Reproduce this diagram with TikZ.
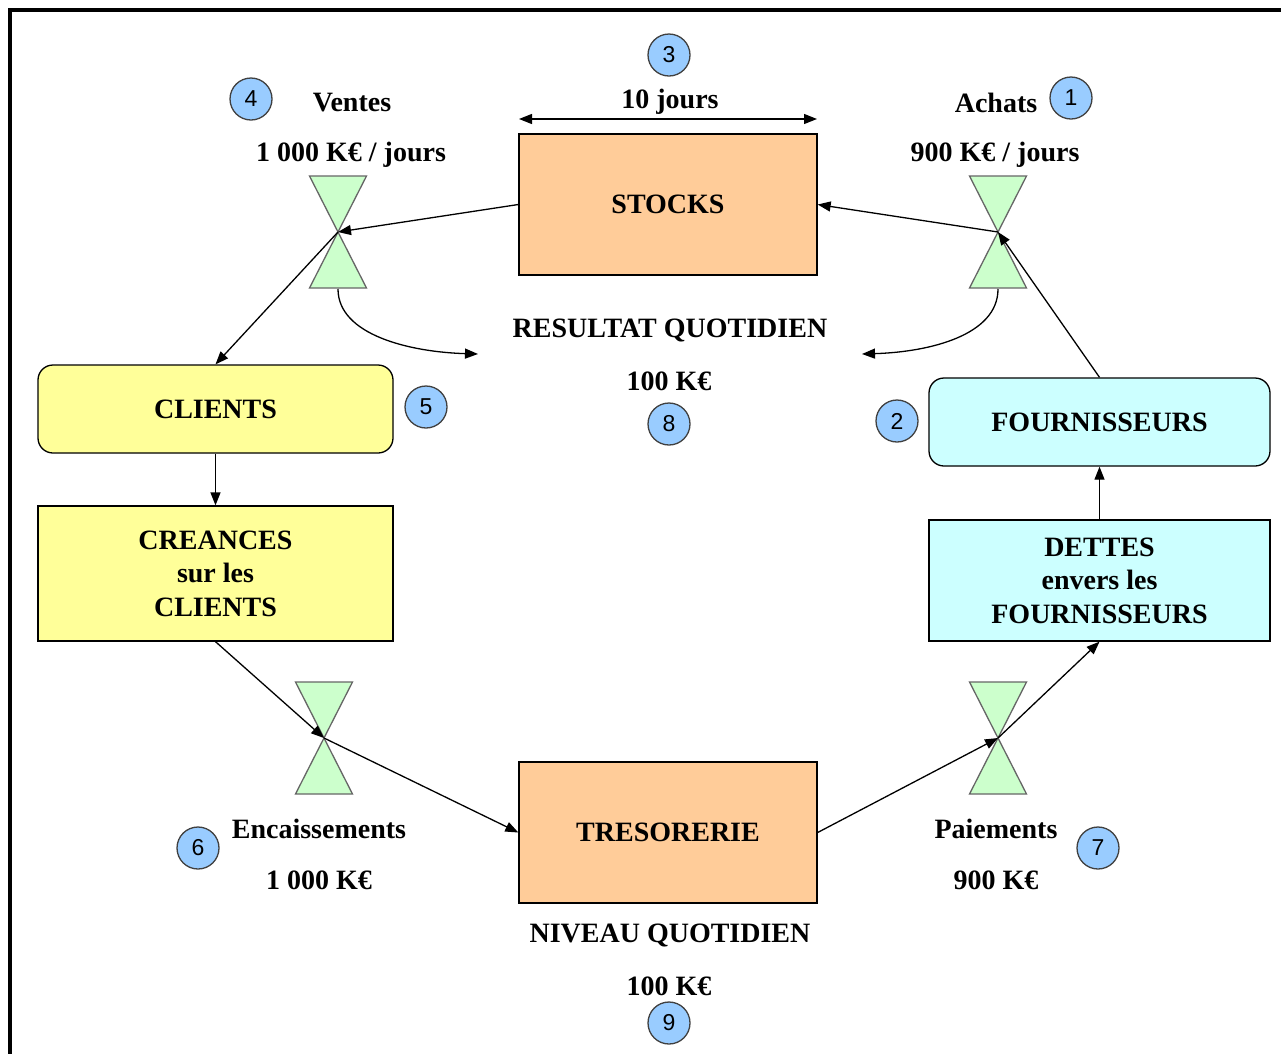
\documentclass[tikz,border=0pt]{standalone}
\usepackage{fontspec}
\setmainfont{Liberation Serif}
\newfontfamily\numfont{Liberation Sans}
\usetikzlibrary{arrows.meta,calc}
\definecolor{peach}{HTML}{FFCC99}
\definecolor{lyellow}{HTML}{FFFF99}
\definecolor{lcyan}{HTML}{CCFFFF}
\definecolor{lgreen}{HTML}{CCFFCC}
\definecolor{lblue}{HTML}{99CCFF}
\begin{document}
\begin{tikzpicture}[x=1pt,y=-1pt,
  txt/.style={font=\fontsize{28}{33.5}\selectfont\bfseries, inner sep=0pt, align=center},
  boxsq/.style={draw=black, line width=1.3pt, inner sep=0pt, font=\fontsize{28}{33.5}\selectfont\bfseries, align=center},
  boxrd/.style={boxsq, rounded corners=15pt},
  numc/.style={circle, draw=black!75, line width=1.3pt, fill=lblue, minimum size=42pt, inner sep=0pt, font=\numfont\fontsize{23}{23}\selectfont},
  conn/.style={line width=1.3pt, -{Triangle[length=13pt,width=10pt]}},
  hgstyle/.style={draw=black!60, line width=1.3pt, fill=lgreen},
  hourglass/.pic={\draw[hgstyle] (-28.5,-56)--(28.5,-56)--(0,0)--cycle (0,0)--(-28.5,56)--(28.5,56)--cycle;}
]
\useasboundingbox (0,0) rectangle (1281,1053);
% frame
\draw[line width=4.5pt, line cap=rect] (1290,10) -- (10,10) -- (10,1060);

% boxes
\node[boxsq, fill=peach, minimum width=298pt, minimum height=141pt] (stocks) at (668,204.5) {STOCKS};
\node[boxsq, fill=peach, minimum width=298pt, minimum height=141pt] (treso) at (668,832.5) {TRESORERIE};
\node[boxrd, fill=lyellow, minimum width=355pt, minimum height=88pt] (clients) at (215.5,409) {CLIENTS};
\node[boxsq, fill=lyellow, minimum width=355pt, minimum height=135pt] (creances) at (215.5,573.5) {CREANCES\\sur les\\CLIENTS};
\node[boxrd, fill=lcyan, minimum width=341pt, minimum height=88pt] (fourn) at (1099.5,422) {FOURNISSEURS};
\node[boxsq, fill=lcyan, minimum width=341pt, minimum height=121pt] (dettes) at (1099.5,580.5) {DETTES\\envers les\\FOURNISSEURS};

% hourglasses
\coordinate (hgV) at (338,232);
\coordinate (hgA) at (998,232);
\coordinate (hgE) at (324,738);
\coordinate (hgP) at (998,738);
\pic at (hgV) {hourglass};
\pic at (hgA) {hourglass};
\pic at (hgE) {hourglass};
\pic at (hgP) {hourglass};
\coordinate (hgVb) at ($(hgV)+(0,57)$);
\coordinate (hgAb) at ($(hgA)+(0,57)$);
\coordinate (resL) at (478,354);
\coordinate (resR) at (862,354);

% texts
\node[txt] (tjours) at (670,102) {10 jours};
\coordinate (dL) at (519,119);
\coordinate (dR) at (817,119);
\draw[line width=1.3pt, {Triangle[length=13pt,width=10pt]}-{Triangle[length=13pt,width=10pt]}] (dL) -- (dR);
\node[txt] (ventes) at (352,103) {Ventes};
\node[txt] (ventesv) at (351,155) {1 000 K€ / jours};
\node[txt] (achats) at (996,103) {Achats};
\node[txt] (achatsv) at (995,155) {900 K€ / jours};
\node[txt] (resq) at (670,330) {RESULTAT QUOTIDIEN};
\node[txt] (resv) at (669,381) {100 K€};
\node[txt] (enc) at (319,829) {Encaissements};
\node[txt] (encv) at (319,880) {1 000 K€};
\node[txt] (pai) at (996,829) {Paiements};
\node[txt] (paiv) at (996,880) {900 K€};
\node[txt] (niv) at (670,935) {NIVEAU QUOTIDIEN};
\node[txt] (nivv) at (669,986) {100 K€};

% numbered circles
\node[numc] (n1) at (1071,98) {1};
\node[numc] (n2) at (897,421) {2};
\node[numc] (n3) at (669,55) {3};
\node[numc] (n4) at (251,99) {4};
\node[numc] (n5) at (426,407) {5};
\node[numc] (n6) at (198,848) {6};
\node[numc] (n7) at (1098,848) {7};
\node[numc] (n8) at (669,424) {8};
\node[numc] (n9) at (669,1023) {9};

% connectors
\draw[conn] (stocks.west) -- (hgV);
\draw[conn] (hgV) -- (clients.north);
\draw[conn] (hgA) -- (stocks.east);
\draw[conn] (fourn.north) -- (hgA);
\draw[conn] (hgVb) .. controls (338,335) and (410,352) .. (resL);
\draw[conn] (hgAb) .. controls (998,335) and (930,352) .. (resR);
\draw[conn] (clients.south) -- (creances.north);
\draw[conn] (creances.south) -- (hgE);
\draw[conn] (hgE) -- (treso.west);
\draw[conn] (treso.east) -- (hgP);
\draw[conn] (hgP) -- (dettes.south);
\draw[conn] (dettes.north) -- (fourn.south);
\end{tikzpicture}
\end{document}
